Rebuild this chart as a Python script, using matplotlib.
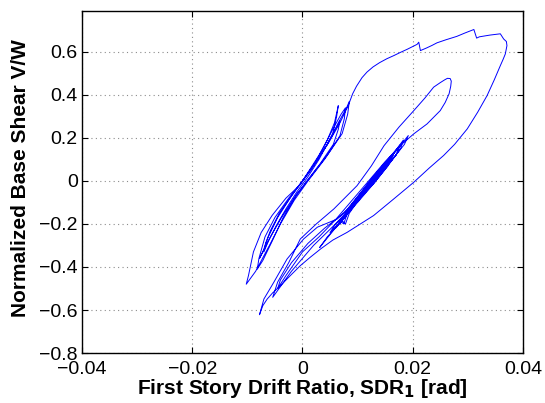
import matplotlib
matplotlib.use("Agg")
import matplotlib.pyplot as plt
import numpy as np

# hysteresis trace, split by phase (drift [rad], V/W)
# phase 1: cycles around the origin
left_x = [0.0, 0.0015, 0.003, 0.0045, 0.0058, 0.0065,
          0.0062, 0.0055, 0.003, 0.001, -0.001, -0.003, -0.0048, -0.0062, -0.007,
          -0.0067, -0.0058, -0.0042, -0.002, 0.0, 0.0022, 0.0045, 0.006, 0.0068,
          0.0065, 0.0056, 0.0032, 0.0008, -0.0015, -0.0038, -0.0058, -0.0072, -0.0078,
          -0.0072, -0.0062, -0.0045, -0.002, 0.0, 0.002, 0.0045, 0.0065, 0.008, 0.0085,
          0.0082, 0.0072, 0.004, 0.001, -0.0015, -0.004, -0.006, -0.0085, -0.0102,
          -0.0098, -0.0089, -0.0075, -0.0055, -0.003, -0.0005, 0.0015, 0.0035, 0.0055, 0.007, 0.0078,
          0.0076, 0.0068, 0.0045, 0.0015, -0.001, -0.0035, -0.0055, -0.0072, -0.0082,
          -0.0079, -0.0068, -0.005, -0.0025, 0.0, 0.0025, 0.0048, 0.0068, 0.0083, 0.0091]
left_y = [0.0, 0.06, 0.12, 0.19, 0.27, 0.35,
          0.30, 0.22, 0.10, 0.02, -0.05, -0.13, -0.21, -0.28, -0.33,
          -0.29, -0.23, -0.15, -0.07, 0.0, 0.08, 0.17, 0.24, 0.28,
          0.24, 0.17, 0.08, 0.0, -0.08, -0.17, -0.26, -0.33, -0.36,
          -0.33, -0.26, -0.17, -0.07, 0.0, 0.07, 0.17, 0.27, 0.34, 0.37,
          0.31, 0.22, 0.10, 0.0, -0.09, -0.20, -0.30, -0.42, -0.48,
          -0.44, -0.33, -0.24, -0.16, -0.08, -0.02, 0.05, 0.14, 0.24, 0.31, 0.34,
          0.29, 0.21, 0.12, 0.02, -0.06, -0.17, -0.28, -0.37, -0.41,
          -0.36, -0.26, -0.17, -0.08, 0.0, 0.09, 0.18, 0.27, 0.35, 0.405]

# phase 2: large excursion to the right and back
big_x = [0.0091, 0.0098, 0.0108, 0.0117, 0.0128, 0.014, 0.0153, 0.0166, 0.0178, 0.019,
         0.02, 0.0208, 0.0211, 0.0214, 0.0225, 0.0235, 0.0244, 0.026, 0.028, 0.0295,
         0.0311, 0.0316, 0.0321, 0.034, 0.0359, 0.0362, 0.0365, 0.037, 0.0371, 0.0368,
         0.0364, 0.0359, 0.0348, 0.0335, 0.0318, 0.0299, 0.0276, 0.0256, 0.023, 0.0202,
         0.0165, 0.0129, 0.0105, 0.0081, 0.0055, 0.0033, 0.0014, -0.0004, -0.0022, -0.004,
         -0.0054, -0.0064, -0.0072, -0.0078]
big_y = [0.405, 0.44, 0.48, 0.506, 0.53, 0.55, 0.568, 0.583, 0.598, 0.612,
         0.625, 0.635, 0.645, 0.606, 0.618, 0.63, 0.642, 0.656, 0.672, 0.688,
         0.704, 0.664, 0.67, 0.678, 0.684, 0.672, 0.66, 0.648, 0.629, 0.59,
         0.565, 0.536, 0.47, 0.397, 0.32, 0.242, 0.17, 0.118, 0.06, -0.006,
         -0.085, -0.161, -0.2, -0.239, -0.275, -0.316, -0.355, -0.394, -0.44, -0.487,
         -0.52, -0.549, -0.58, -0.622]

# phase 3: residual cycles on the right
right_x = [-0.0078, -0.007, -0.0052, -0.0028, 0.0002, 0.0027, 0.0063, 0.0095, 0.0125, 0.015, 0.0165,
           0.0155, 0.013, 0.01, 0.006, 0.002, -0.002, -0.0054,
           -0.0045, -0.0025, -0.0004, 0.0025, 0.0057, 0.0099, 0.0125, 0.0148, 0.0175, 0.0202,
           0.0222, 0.0238, 0.025, 0.0258, 0.0263, 0.0268, 0.027, 0.0269, 0.0266, 0.0259, 0.025,
           0.0226, 0.0202, 0.018, 0.015, 0.012, 0.009,
           0.006, 0.003, 0.0, -0.003, -0.0045,
           -0.004, -0.002, 0.001, 0.004, 0.0075, 0.011, 0.014, 0.017, 0.0192,
           0.0185, 0.016, 0.013, 0.01, 0.0075, 0.005, 0.0031,
           0.0045, 0.007, 0.0075, 0.008, 0.0105, 0.013, 0.0155, 0.0178,
           0.0172, 0.015, 0.0125, 0.0095, 0.0068, 0.005,
           0.006, 0.0085, 0.011, 0.0135, 0.016, 0.0183,
           0.0178, 0.0155, 0.013, 0.0105, 0.008, 0.006,
           0.007, 0.0078, 0.0085, 0.011, 0.0135, 0.0158, 0.0175,
           0.017, 0.014, 0.011, 0.0085, 0.0068,
           0.0085, 0.011, 0.0135, 0.0155,
           0.0148, 0.0125, 0.0098, 0.0078,
           0.0095, 0.012, 0.0145, 0.0162,
           0.0155, 0.013, 0.0105, 0.0088,
           0.0105, 0.0128, 0.0148,
           0.014, 0.0115, 0.0095,
           0.011, 0.0132, 0.0142,
           0.0125, 0.0108,
           0.0125, 0.0135]
right_y = [-0.622, -0.549, -0.471, -0.363, -0.27, -0.215, -0.177, -0.10, -0.01, 0.07, 0.12,
           0.07, -0.01, -0.10, -0.20, -0.30, -0.42, -0.541,
           -0.47, -0.38, -0.27, -0.20, -0.13, -0.022, 0.07, 0.164, 0.25, 0.327,
           0.385, 0.436, 0.457, 0.47, 0.477, 0.476, 0.464, 0.44, 0.405, 0.365, 0.327,
           0.265, 0.219, 0.17, 0.09, 0.0, -0.09,
           -0.18, -0.26, -0.33, -0.44, -0.50,
           -0.46, -0.38, -0.29, -0.22, -0.15, -0.05, 0.05, 0.14, 0.211,
           0.17, 0.09, 0.0, -0.09, -0.17, -0.25, -0.31,
           -0.26, -0.19, -0.20, -0.16, -0.07, 0.02, 0.10, 0.17,
           0.13, 0.06, -0.02, -0.11, -0.19, -0.24,
           -0.20, -0.13, -0.05, 0.03, 0.11, 0.19,
           0.15, 0.07, -0.01, -0.08, -0.16, -0.22,
           -0.18, -0.20, -0.15, -0.06, 0.02, 0.10, 0.16,
           0.12, 0.03, -0.06, -0.14, -0.20,
           -0.12, -0.04, 0.04, 0.10,
           0.06, -0.01, -0.09, -0.15,
           -0.09, -0.01, 0.07, 0.12,
           0.08, 0.0, -0.08, -0.13,
           -0.06, 0.01, 0.07,
           0.04, -0.04, -0.10,
           -0.05, 0.02, 0.05,
           -0.01, -0.06,
           0.0, 0.03]

x_ticks = [-0.04, -0.02, 0, 0.02, 0.04]
y_ticks = [-0.8, -0.6, -0.4, -0.2, 0, 0.2, 0.4, 0.6]

plt.rcParams["font.family"] = ["Liberation Sans", "DejaVu Sans"]

fig = plt.figure(figsize=(5.45, 4.03), dpi=100)
ax = fig.add_axes([0.1505, 0.124, 0.809, 0.8487])

drift = np.concatenate([left_x, big_x, right_x])
shear = np.concatenate([left_y, big_y, right_y])
ax.plot(drift, shear, color=(0, 0, 1), lw=0.7)

ax.set_xlim(-0.04, 0.04)
ax.set_ylim(-0.8, 0.79)
ax.set_xticks(x_ticks)
ax.set_yticks(y_ticks)
ax.set_xticklabels(["\u22120.04", "\u22120.02", "0", "0.02", "0.04"])
ax.set_yticklabels(["\u22120.8", "\u22120.6", "\u22120.4", "\u22120.2", "0", "0.2", "0.4", "0.6"])
ax.tick_params(direction="in", length=4, width=0.8, top=True, right=True, labelsize=14)
ax.tick_params(axis="x", pad=6)
ax.tick_params(axis="y", pad=3)
ax.grid(True, color="0.55", linestyle=(0, (1, 3)), lw=0.8)
for s in ax.spines.values():
    s.set_linewidth(1.0)

ax.set_xlabel("First Story Drift Ratio, SDR$_\\mathbf{1}$ [rad]", fontsize=15, fontweight="bold")
ax.xaxis.set_label_coords(0.5, -0.07)
ax.set_ylabel("Normalized Base Shear V/W", fontsize=15, fontweight="bold")
ax.yaxis.set_label_coords(-0.118, 0.512)

fig.savefig("out.png", dpi=100)
